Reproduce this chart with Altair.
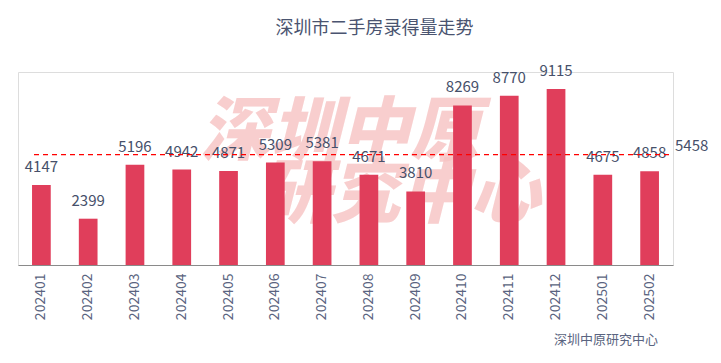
import altair as alt
import pandas as pd

months = ["202401", "202402", "202403", "202404", "202405", "202406", "202407",
          "202408", "202409", "202410", "202411", "202412", "202501", "202502"]
volumes = [4147, 2399, 5196, 4942, 4871, 5309, 5381, 4671, 3810, 8269, 8770, 9115, 4675, 4858]
average_value = 5458
title_text = "深圳市二手房录得量走势"
watermark_lines = ["深圳中原", "研究中心"]
source_text = "深圳中原研究中心"

df = pd.DataFrame({"month": months, "volume": volumes})
avg_df = pd.DataFrame({"avg": [average_value], "label": [str(average_value)]})

W, H = 655, 193
FONT = "Noto Sans CJK SC"
TXT = "#46506a"

x_enc = alt.X("month:N", sort=months, title=None,
              scale=alt.Scale(paddingInner=0.6, paddingOuter=0.3),
              axis=alt.Axis(labelAngle=-90, labelFontSize=14, labelColor="#5a6480",
                            labelFont=FONT, ticks=False, domainColor="#8a8a8a",
                            labelPadding=8, labelAlign="right", labelBaseline="middle"))
y_scale = alt.Scale(domain=[0, 10000])
y_enc = alt.Y("volume:Q", scale=y_scale, axis=None)

wm_style = dict(font=FONT, fontSize=70, fontWeight=900, fontStyle="italic",
                color="#f7c3c3", opacity=0.8, align="center", baseline="middle")

wm1 = alt.Chart(pd.DataFrame({"t": [watermark_lines[0]]})).mark_text(**wm_style).encode(
    text="t:N", x=alt.value(322), y=alt.value(62))

wm2 = alt.Chart(pd.DataFrame({"t": [watermark_lines[1]]})).mark_text(**wm_style).encode(
    text="t:N", x=alt.value(382), y=alt.value(124))

bars = alt.Chart(df).mark_bar(color="#e03e5b").encode(x=x_enc, y=y_enc)

labels = alt.Chart(df).mark_text(
    font=FONT, fontSize=15, color=TXT, dy=-10, baseline="bottom"
).encode(x=x_enc, y=y_enc, text="volume:Q")

avg_rule = alt.Chart(avg_df).mark_rule(
    color="#ff0000", strokeDash=[5, 4], strokeWidth=1.3, yOffset=-5
).encode(y=alt.Y("avg:Q", scale=y_scale, axis=None), x=alt.value(16), x2=alt.value(652))

avg_label = alt.Chart(avg_df).mark_text(
    font=FONT, fontSize=15, color=TXT, align="left", baseline="bottom", dx=2, dy=-6
).encode(y=alt.Y("avg:Q", scale=y_scale, axis=None), x=alt.value(655), text="label:N")

source = alt.Chart(pd.DataFrame({"t": [source_text]})).mark_text(
    font=FONT, fontSize=13, color="#5a6480", align="left", baseline="middle"
).encode(text="t:N", x=alt.value(536), y=alt.value(268))

chart = alt.layer(wm1, wm2, bars, labels, avg_rule, avg_label, source).properties(
    width=W, height=H,
    title=alt.TitleParams(title_text, font=FONT, fontSize=18, fontWeight="normal",
                          color="#4a5470", anchor="middle", dx=29, offset=26),
    padding={"left": 10, "top": 64, "right": 40, "bottom": 90},
    autosize=alt.AutoSizeParams(type="none"),
).configure_view(stroke=None).configure(background="white")

chart.save("out.html", embed_options={"renderer": "svg", "actions": False})
